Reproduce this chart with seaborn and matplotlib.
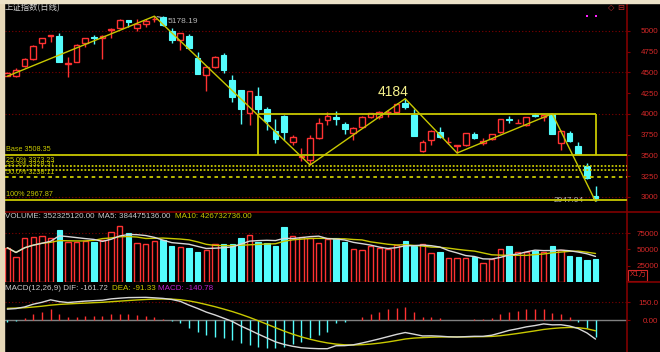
import matplotlib
matplotlib.use("Agg")
import matplotlib.pyplot as plt
from matplotlib.lines import Line2D
from matplotlib.patches import Rectangle
import numpy as np
import pandas as pd
import seaborn as sns

W, H = 660, 352

# daily candles, 上证指数
opens = [4462, 4460, 4580, 4660, 4850, 4945, 4944, 4605, 4630, 4850,
         4930, 4910, 5015, 5040, 5130, 5040, 5085, 5142, 5170, 5000,
         4890, 4945, 4680, 4470, 4570, 4710, 4410, 4290, 4010, 4215,
         4060, 3800, 3975, 3660, 3480, 3445, 3707, 3927, 3960, 3875,
         3767, 3847, 3960, 3960, 4020, 4028, 4128, 3988, 3558, 3686,
         3787, 3658, 3618, 3626, 3755, 3646, 3695, 3787, 3935, 3887,
         3867, 3988, 3968, 3998, 3654, 3767, 3618, 3373, 3016]
highs = [4510, 4550, 4680, 4830, 4920, 4955, 4980, 4690, 4840, 4915,
         4950, 4950, 5040, 5150, 5135, 5150, 5145, 5178.19, 5176, 5030,
         4975, 4960, 4750, 4575, 4695, 4730, 4470, 4290, 4280, 4330,
         4090, 3935, 3990, 3745, 3595, 3745, 3947, 4028, 4040, 3907,
         3847, 3976, 4016, 4040, 4048, 4128, 4184, 4056, 3686, 3807,
         3847, 3719, 3626, 3775, 3787, 3707, 3755, 3935, 3976, 3935,
         3968, 4008, 3995, 4003, 3807, 3799, 3658, 3405, 3132]
lows = [4455, 4450, 4570, 4650, 4790, 4870, 4625, 4440, 4625, 4810,
        4840, 4660, 4910, 5030, 5050, 5000, 5050, 5110, 5065, 4850,
        4770, 4790, 4480, 4275, 4550, 4490, 4150, 3885, 3867, 4010,
        3807, 3645, 3685, 3625, 3435, 3385, 3695, 3867, 3867, 3755,
        3687, 3839, 3948, 3936, 3968, 4028, 4060, 3735, 3546, 3626,
        3707, 3638, 3530, 3618, 3695, 3626, 3687, 3775, 3887, 3887,
        3859, 3960, 3920, 3759, 3566, 3666, 3518, 3213, 2947.94]
closes = [4490, 4530, 4660, 4820, 4910, 4952, 4630, 4615, 4830, 4910,
          4910, 4940, 5022, 5130, 5110, 5090, 5120, 5150, 5075, 4890,
          4970, 4790, 4480, 4570, 4690, 4530, 4200, 4060, 4275, 4060,
          3920, 3695, 3785, 3725, 3488, 3715, 3887, 3975, 3943, 3815,
          3827, 3968, 4008, 4020, 4028, 4120, 4088, 3735, 3667, 3799,
          3719, 3666, 3626, 3775, 3707, 3678, 3755, 3935, 3927, 3895,
          3960, 3980, 3990, 3759, 3799, 3674, 3518, 3225, 2983]

# volume in 万 (x10000)
volumes = [52600, 38000, 67000, 68500, 71000, 68000, 79800, 60900, 60900, 63400,
           61800, 64400, 77200, 86400, 74600, 60300, 57800, 63400, 64900, 55700,
           54200, 51600, 46600, 49100, 57800, 57800, 57800, 68000, 72100, 61800,
           60300, 55700, 84900, 71000, 68500, 68000, 59300, 66000, 67900, 60900,
           50100, 49100, 55200, 52600, 50100, 56700, 63400, 55700, 57800, 45000,
           46600, 36300, 37400, 37400, 37900, 28600, 34800, 50100, 55200, 45500,
           45500, 48100, 46600, 55700, 49100, 40300, 37900, 33700, 35232]

# MACD(12,26,9)
dif = [92, 97, 111, 134, 150, 171, 156, 148, 154, 160,
       164, 168, 179, 185, 190, 191, 192, 188, 183, 174,
       158, 126, 98, 67, 43, 16, -12, -51, -84, -119,
       -152, -185, -207, -223, -235, -240, -243, -243, -218, -217,
       -210, -195, -178, -160, -141, -122, -106, -120, -135, -134,
       -137, -142, -144, -141, -138, -138, -129, -109, -88, -74,
       -58, -47, -33, -41, -40, -51, -72, -109, -161.72]
dea = [99, 101, 104, 110, 117, 126, 132, 136, 140, 143,
       147, 150, 155, 160, 165, 170, 174, 177, 178, 177,
       172, 162, 148, 131, 113, 93, 72, 48, 22, -6,
       -35, -65, -94, -120, -143, -163, -180, -194, -204, -210,
       -212, -209, -204, -196, -186, -174, -161, -153, -149, -146,
       -144, -143, -143, -143, -142, -141, -139, -133, -124, -114,
       -103, -92, -80, -72, -66, -63, -65, -74, -91.33]
macd_hist = [-14, -8, 14, 48, 65, 90, 48, 23, 28, 34,
             34, 37, 48, 51, 51, 42, 37, 23, 11, -6,
             -28, -71, -99, -127, -141, -155, -169, -198, -212, -226,
             -234, -240, -226, -206, -184, -155, -127, -99, -28, -14,
             3, 28, 51, 71, 90, 104, 110, 65, 28, 23,
             14, 2, -2, 3, 8, 6, 20, 48, 71, 79,
             90, 90, 93, 62, 51, 23, -14, -71, -140.78]

zigzag_idx = [0, 17, 35, 46, 52, 63, 68]
zigzag_val = [4455, 5178.19, 3385, 4184, 3530, 4003, 2947.94]

fib_levels = [3508.35, 3373.23, 3328.37, 3238.11, 2967.87]
fib_labels = ["Base 3508.35", "25.0% 3373.23", "33.3% 3328.37", "50.0% 3238.11", "100% 2967.87"]
fib_styles = ["-", (0, (1, 1)), (0, (1, 1)), (0, (2, 2)), "-"]

box_start, box_end, box_top = 29, 68, 4003

price_ticks = [3000, 3250, 3500, 3750, 4000, 4250, 4500, 4750, 5000]
price_grid = [3000, 3500, 4000, 4500, 5000]
vol_ticks = [25000, 50000, 75000]
macd_ticks = [0, 150]
macd_tick_labels = ["0.00", "150.0"]

RED = "#ff3232"
CYAN = "#54fcfc"
DARKRED = "#800000"
LABELRED = "#d42828"
YELLOW = "#c8c800"
GRAY = "#c8c8c8"


def px_rect(x0, y0, x1, y1):
    return [x0 / W, 1 - y1 / H, (x1 - x0) / W, (y1 - y0) / H]


def style_axes(ax):
    ax.set_facecolor("black")
    for side in ["top", "left", "bottom"]:
        ax.spines[side].set_visible(False)
    ax.spines["right"].set_color(DARKRED)
    ax.spines["right"].set_linewidth(1.2)
    ax.yaxis.tick_right()
    ax.tick_params(axis="y", colors=DARKRED, labelcolor=LABELRED, labelsize=5.8,
                   length=2.2, width=0.8, pad=20.5)
    ax.set_xticks([])
    ax.grid(False)


def finish_axes(ax, ticks, labels):
    ax.set_yticks(ticks)
    ax.set_yticklabels(labels)
    for lbl in ax.get_yticklabels():
        lbl.set_horizontalalignment("right")
    ax.set_xlim(-0.27, 71.64)
    ax.set_xlabel("")
    ax.set_ylabel("")


sns.set_theme(style="dark")
plt.rcParams["font.family"] = ["Liberation Sans", "Noto Sans CJK SC", "DejaVu Sans"]

fig = plt.figure(figsize=(W / 100, H / 100), dpi=100, facecolor="black")
ax_p = fig.add_axes(px_rect(5, 4, 627, 212))
ax_v = fig.add_axes(px_rect(5, 212, 627, 282))
ax_m = fig.add_axes(px_rect(5, 282, 627, 352))
for a in (ax_p, ax_v, ax_m):
    style_axes(a)

idx = np.arange(len(opens))
o, h, l, c = map(np.array, (opens, highs, lows, closes))
up = c >= o

# ---- price panel
for g in price_grid:
    ax_p.axhline(g, color=DARKRED, lw=0.8, ls=(0, (1, 2)), zorder=0)

ax_p.vlines(idx[~up], l[~up], h[~up], color=CYAN, lw=1, zorder=2)
ax_p.bar(idx[~up], c[~up] - o[~up], bottom=o[~up], width=0.66,
         color=CYAN, edgecolor=CYAN, lw=0.8, zorder=3)
ax_p.vlines(idx[up], c[up], h[up], color=RED, lw=1, zorder=2)
ax_p.vlines(idx[up], l[up], o[up], color=RED, lw=1, zorder=2)
ax_p.bar(idx[up], c[up] - o[up], bottom=o[up], width=0.66,
         facecolor="black", edgecolor=RED, lw=1, zorder=3)

for lvl, lab, st in zip(fib_levels, fib_labels, fib_styles):
    ax_p.axhline(lvl, color=YELLOW, lw=1.3, ls=st, zorder=4)
    ax_p.annotate(lab, xy=(0, lvl), xycoords=ax_p.get_yaxis_transform(),
                  xytext=(1, 1.2), textcoords="offset points", va="bottom",
                  ha="left", color=YELLOW, fontsize=5.2, zorder=6)

ax_p.vlines([box_start, box_end], fib_levels[0], box_top, color=YELLOW, lw=1.3, zorder=4)
ax_p.hlines(box_top, box_start, box_end, color=YELLOW, lw=1.3, zorder=4)

zz = pd.DataFrame({"i": zigzag_idx, "v": zigzag_val})
sns.lineplot(data=zz, x="i", y="v", ax=ax_p, color=YELLOW, lw=1, sort=False, zorder=5)

ax_p.annotate("5178.19", xy=(17, 5178.19), xytext=(18.5, 5118), color="#b4b4b4",
              fontsize=6, va="center", ha="left",
              arrowprops=dict(arrowstyle="-", color="#b4b4b4", lw=0.8))
ax_p.annotate("2947.94", xy=(68, 2960), xytext=(63.2, 2960), color="#b4b4b4",
              fontsize=6, va="center", ha="left",
              arrowprops=dict(arrowstyle="-", color="#b4b4b4", lw=0.8))
ax_p.text(44.6, 4259, "4184", color="#f5f08c", fontsize=10, ha="center", va="center")
ax_p.scatter([67, 68], [5184, 5184], marker="s", s=2.5, color="#ff20ff", lw=0, zorder=6)

ax_p.set_ylim(2819, 5325)
finish_axes(ax_p, price_ticks, [str(t) for t in price_ticks])

# ---- volume panel
vol = pd.Series(volumes)
ax_v.axhline(75000, color=DARKRED, lw=0.8, ls=(0, (1, 2)), zorder=0)
vv = np.array(volumes)
ax_v.bar(idx[~up], vv[~up], width=0.62, color=CYAN, edgecolor=CYAN, lw=0.8, zorder=2)
ax_v.bar(idx[up], vv[up], width=0.62, facecolor="black", edgecolor=RED, lw=1, zorder=2)
sns.lineplot(x=idx, y=vol.rolling(5, min_periods=1).mean(), ax=ax_v, color="#d8d8d8", lw=1, zorder=4)
sns.lineplot(x=idx, y=vol.rolling(10, min_periods=1).mean(), ax=ax_v, color=YELLOW, lw=1, zorder=3)
ax_v.set_ylim(0, 107400)
finish_axes(ax_v, vol_ticks, [str(t) for t in vol_ticks])

# ---- MACD panel
hh = np.array(macd_hist)
ax_m.axhline(150, color=DARKRED, lw=0.8, ls=(0, (1, 2)), zorder=0)
ax_m.axhline(0, color="#808080", lw=1, zorder=1)
ax_m.vlines(idx, 0, hh, colors=np.where(hh >= 0, RED, CYAN), lw=1, zorder=2)
sns.lineplot(x=idx, y=dif, ax=ax_m, color="#d8d8d8", lw=1, zorder=4)
sns.lineplot(x=idx, y=dea, ax=ax_m, color=YELLOW, lw=1, zorder=3)
ax_m.set_ylim(-271, 322)
finish_axes(ax_m, macd_ticks, macd_tick_labels)

# ---- frame decorations
fig.add_artist(Rectangle((0, 0), 4 / W, 1, transform=fig.transFigure,
                         color="#e6d8b8", zorder=10))
fig.add_artist(Rectangle((0, 1 - 3 / H), 1, 3 / H, transform=fig.transFigure,
                         color="#ece2c8", zorder=10))
fig.add_artist(Line2D([5 / W, 1], [1 - 212 / H] * 2, color=DARKRED, lw=1.2))
fig.add_artist(Line2D([627 / W, 1], [1 - 282 / H] * 2, color=DARKRED, lw=1.2))
fig.add_artist(Rectangle((628 / W, 1 - 281 / H), 19 / W, 11 / H, transform=fig.transFigure,
                         fill=False, edgecolor=LABELRED, lw=0.8))
fig.text(630 / W, 1 - 275.5 / H, "X1万", color=LABELRED, fontsize=5.5, va="center", ha="left")


def ftext(x, y, s, color, size=5.8, **kw):
    fig.text(x / W, 1 - y / H, s, color=color, fontsize=size, va="center", ha="left", **kw)


ftext(5, 8, "上证指数(日线)", "#d0d0d0", 6, family=["Noto Sans CJK SC", "DejaVu Sans"])
ftext(608, 8, "◇", "#c03030", 6, family=["DejaVu Sans"])
ftext(617, 8, "⊟", "#c03030", 6, family=["DejaVu Sans"])
ftext(5, 217, "VOLUME: 352325120.00", GRAY)
ftext(98, 217, "MA5: 384475136.00", GRAY)
ftext(175, 217, "MA10: 426732736.00", YELLOW)
ftext(5, 289, "MACD(12,26,9) DIF: -161.72", GRAY)
ftext(112, 289, "DEA: -91.33", YELLOW)
ftext(158, 289, "MACD: -140.78", "#c020d0")

fig.savefig("out.png", dpi=100, facecolor="black")
